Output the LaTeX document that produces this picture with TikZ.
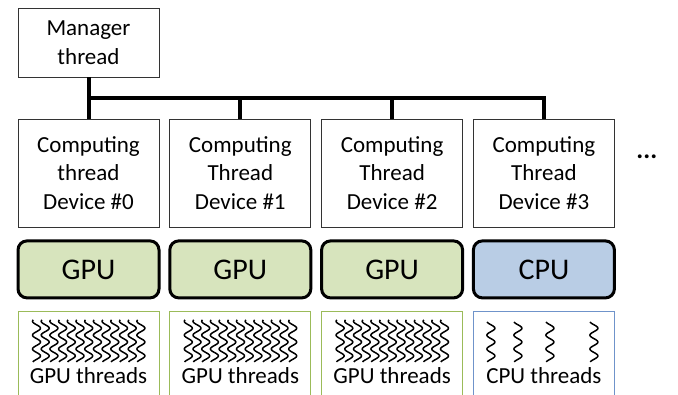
\documentclass[tikz,border=0pt]{standalone}
\usepackage{fontspec}
\setmainfont{Carlito}
\usetikzlibrary{positioning,calc}
\definecolor{gpufill}{HTML}{D7E4BD}
\definecolor{cpufill}{HTML}{B9CDE5}
\definecolor{gpuline}{HTML}{9BBB59}
\definecolor{cpuline}{HTML}{6F93CA}

\begin{document}
\begin{tikzpicture}[
  x=1pt, y=-1pt,
  font=\fontsize{23}{28.5}\selectfont,
  thread/.style={draw=black!80, line width=0.8pt, align=center, minimum width=141pt, minimum height=108pt, inner sep=0pt},
  manager/.style={thread, minimum height=69pt},
  unit/.style={draw, line width=3pt, rounded corners=9pt, minimum width=141pt, minimum height=57pt, font=\fontsize{30}{36}\selectfont},
  pool/.style={draw, line width=1pt, fill=white, minimum width=141pt, minimum height=100pt},
  bus/.style={line width=4pt},
  squig/.style={line width=1.5pt},
  node distance=10pt
]
\path[use as bounding box, clip] (0,0) rectangle (678,394);
% threads
\node[manager] (mgr) at (88.5,42.5) {Manager\\thread};
\node[thread] (comp0) at (88.5,173) {Computing\\thread\\Device \#0};
\node[thread, right=of comp0] (comp1) {Computing\\Thread\\Device \#1};
\node[thread, right=of comp1] (comp2) {Computing\\Thread\\Device \#2};
\node[thread, right=of comp2] (comp3) {Computing\\Thread\\Device \#3};
\node[font=\fontsize{26}{28}\bfseries] (more) at ([xshift=32pt, yshift=16pt]comp3.east) {...};
% devices
\node[unit, fill=gpufill, below=12pt of comp0] (dev0) {GPU};
\node[unit, fill=gpufill, below=12pt of comp1] (dev1) {GPU};
\node[unit, fill=gpufill, below=12pt of comp2] (dev2) {GPU};
\node[unit, fill=cpufill, below=12pt of comp3] (dev3) {CPU};
% thread pools
\node[pool, draw=gpuline, below=11.5pt of dev0] (pool0) {};
\node[pool, draw=gpuline, below=11.5pt of dev1] (pool1) {};
\node[pool, draw=gpuline, below=11.5pt of dev2] (pool2) {};
\node[pool, draw=cpuline, below=11.5pt of dev3] (pool3) {};
\node (lab0) at ([yshift=-65pt]pool0.north) {GPU threads};
\node (lab1) at ([yshift=-65pt]pool1.north) {GPU threads};
\node (lab2) at ([yshift=-65pt]pool2.north) {GPU threads};
\node (lab3) at ([yshift=-65pt]pool3.north) {CPU threads};
\foreach \p in {pool0,pool1,pool2}{
  \begin{scope}[shift={(\p.north west)}]
    \foreach \i in {0,...,12}
      \draw[squig] plot[domain=9:51, samples=60, smooth] ({19+8.7*\i+4*sin(\x*26)}, {\x});
  \end{scope}
}
\begin{scope}[shift={(pool3.north west)}]
  \foreach \c in {18,45,77,121}
    \draw[squig] plot[domain=11:51, samples=60, smooth] ({\c+4*sin(\x*26)}, {\x});
\end{scope}
% connections
\coordinate (hub) at ($(mgr.south)!0.5!(comp0.north)$);
\draw[bus] (mgr.south) -- (comp0.north);
\draw[bus] (hub) -| (comp3.north);
\draw[bus] (hub -| comp1.north) -- (comp1.north);
\draw[bus] (hub -| comp2.north) -- (comp2.north);
\end{tikzpicture}
\end{document}
